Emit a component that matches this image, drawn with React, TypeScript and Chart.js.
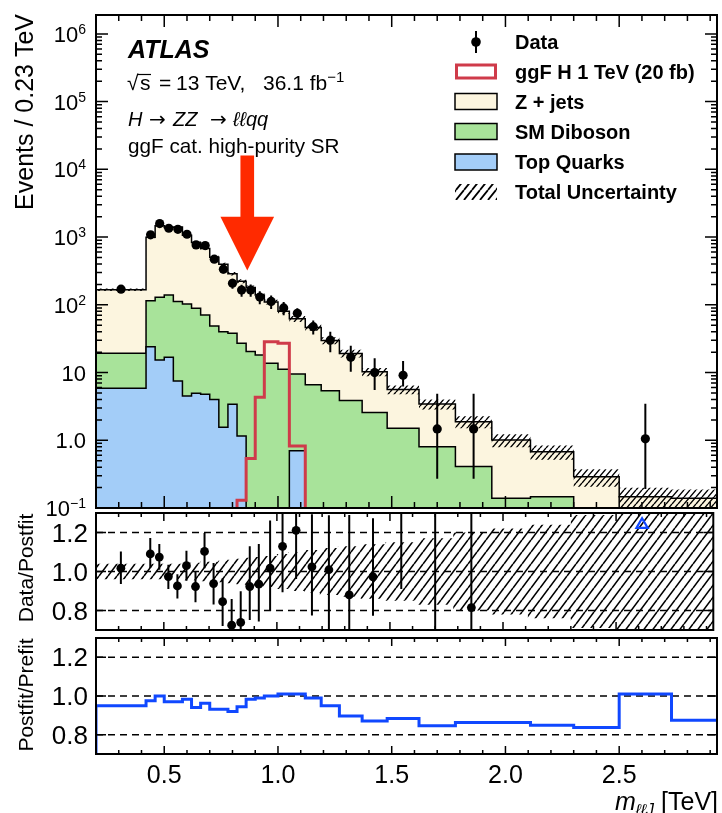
import React, { useEffect, useRef } from "react";
import { Chart, registerables } from "chart.js";

Chart.register(...registerables);

// ---------------- data ----------------
const BIN_EDGES = [0.2, 0.42, 0.46, 0.5, 0.54, 0.58, 0.62, 0.66, 0.7, 0.74, 0.78, 0.82, 0.86, 0.9, 0.94, 1.0, 1.05, 1.12, 1.19, 1.27, 1.37, 1.48, 1.62, 1.78, 1.94, 2.11, 2.3, 2.5, 2.73, 2.93];

const DATA_EVENTS = [170, 1080, 1580, 1350, 1300, 1100, 767, 750, 472, 336, 208, 165, 165, 130, 112, 90, 75, 47.5, 30, 16.8, 10, 9.1, 1.47, 1.47, null, null, null, 1.05, null];
const DATA_ERR_UP = [14, 80, 95, 80, 80, 80, 55, 65, 50, 45, 35, 33, 34, 28, 25, 20, 14, 11, 10, 8, 6.3, 5.7, 3.4, 3.4, null, null, null, 2.4, null];
const DATA_ERR_DOWN = [14, 80, 95, 80, 80, 80, 55, 65, 50, 45, 35, 33, 34, 28, 25, 20, 12, 11, 10, 6.5, 4.5, 2.9, 1.2, 1.2, null, null, null, 0.86, null];

const Z_JETS = [148, 875, 1341, 1246, 1293, 965, 742, 609, 454, 356, 249, 196, 159, 121, 96, 69, 52.5, 39.8, 24.3, 15.3, 7.7, 4.1, 2.63, 1.47, 0.87, 0.53, 0.24, 0.117, 0.119];
const SM_DIBOSON = [13.4, 91, 114, 123, 104, 98.5, 84, 66.2, 44.7, 38.4, 34.6, 25.8, 20.4, 18.2, 13.7, 11.2, 8.8, 6.6, 5.4, 3.85, 2.56, 1.5, 0.8, 0.41, 0.139, 0.147, 0.05, 0.03, 0.02];
const TOP_QUARKS = [5.86, 24, 15.3, 16.8, 7.5, 4.5, 4.95, 4.8, 4.0, 1.56, 3.4, 1.16, 0, 0, 0, 0, 0.7, 0, 0, 0, 0, 0, 0, 0, 0, 0, 0, 0, 0];
const SIGNAL_GGF_1TEV = [0, 0, 0, 0, 0, 0, 0, 0, 0, 0, 0, 0.13, 0.54, 4.3, 28.6, 27, 0.82, 0, 0, 0, 0, 0, 0, 0, 0, 0, 0, 0, 0];
const REL_UNCERTAINTY = [0.04, 0.04, 0.04, 0.04, 0.04, 0.045, 0.045, 0.05, 0.05, 0.055, 0.06, 0.065, 0.07, 0.075, 0.08, 0.09, 0.1, 0.11, 0.12, 0.13, 0.14, 0.15, 0.17, 0.2, 0.22, 0.24, 0.29, 0.35, 0.35];

const RATIO = [1.017, 1.09, 1.074, 0.974, 0.926, 1.03, 0.923, 1.103, 0.938, 0.845, 0.725, 0.739, 0.923, 0.935, 1.017, 1.129, 1.211, 1.024, 1.009, 0.88, 0.973, 1.63, 0.43, 0.815, null, null, null, null, null];
const RATIO_ERR_UP = [0.086, 0.082, 0.067, 0.06, 0.06, 0.077, 0.077, 0.095, 0.105, 0.12, 0.134, 0.16, 0.206, 0.206, 0.244, 0.26, 0.25, 0.27, 0.28, 0.41, 0.3, 0.6, 0.95, 0.9, null, null, null, null, null];
const RATIO_ERR_DOWN = [0.081, 0.072, 0.065, 0.064, 0.064, 0.077, 0.081, 0.086, 0.107, 0.124, 0.14, 0.16, 0.172, 0.192, 0.22, 0.235, 0.25, 0.25, 0.31, 0.3, 0.2, 0.72, 0.43, 0.65, null, null, null, null, null];
const OFFSCALE_BINS = [27];
const OFFSCALE_MARK_Y = 1.24;

const POSTFIT_PREFIT = [0.95, 0.976, 1.0, 0.97, 0.97, 0.983, 0.94, 0.962, 0.931, 0.931, 0.92, 0.945, 0.983, 0.99, 1.0, 1.01, 1.01, 0.99, 0.95, 0.897, 0.871, 0.883, 0.846, 0.863, 0.863, 0.849, 0.837, 1.01, 0.875];

const X_TICK_VALUES = [0.5, 1.0, 1.5, 2.0, 2.5];
const X_TICK_LABELS = ["0.5", "1.0", "1.5", "2.0", "2.5"];
const Y_TOP_TICK_VALUES = [1e6, 1e5, 1e4, 1e3, 1e2, 10, 1, 0.1];
const Y_TOP_TICK_BASES = ["10", "10", "10", "10", "10", "10", "1.0", "10"];
const Y_TOP_TICK_EXPS = ["6", "5", "4", "3", "2", "", "", "\u22121"];
const RATIO_TICK_VALUES = [1.2, 1.0, 0.8];
const RATIO_TICK_LABELS = ["1.2", "1.0", "0.8"];
const LEGEND_LABELS = ["Data", "ggF H 1 TeV (20 fb)", "Z + jets", "SM Diboson", "Top Quarks", "Total Uncertainty"];

const ARROW_X = 0.865;
const ARROW_TIP = 320;
const ARROW_HEAD_BASE = 2000;
const ARROW_TAIL = 16000;
const ARROW_HEAD_HALF = 0.118;
const ARROW_SHAFT_HALF = 0.03;

// ---------------- layout / style ----------------
const W = 722;
const H = 813;
const X_MIN = 0.2;
const X_MAX = 2.93;
const FONT = '"Liberation Sans", Arial, Helvetica, sans-serif';
const C_ZJETS = "#fcf5df";
const C_DIBOSON = "#a8e39a";
const C_TOP = "#a3cdf8";
const C_SIGNAL = "#cf3b4a";
const C_ARROW = "#ff2a00";
const C_BLUE = "#1048ff";

const BIN_CENTERS = BIN_EDGES.slice(0, -1).map((e, i) => (e + BIN_EDGES[i + 1]) / 2);

function stepPoints(vals: number[], floor: number) {
  const pts: { x: number; y: number }[] = [];
  vals.forEach((v, i) => {
    const y = v > floor ? v : floor;
    pts.push({ x: BIN_EDGES[i], y }, { x: BIN_EDGES[i + 1], y });
  });
  return pts;
}

function makeHatch(ctx: CanvasRenderingContext2D, w: number, h: number, lw: number) {
  const c = document.createElement("canvas");
  c.width = w;
  c.height = h;
  const g = c.getContext("2d")!;
  g.strokeStyle = "#000";
  g.lineWidth = lw;
  g.beginPath();
  for (const k of [-1, 0, 1]) {
    g.moveTo(k * w, h);
    g.lineTo(k * w + w, 0);
  }
  g.stroke();
  return ctx.createPattern(c, "repeat")!;
}

type Part = { t: string; font: string; dy?: number; x?: number };
function drawParts(ctx: CanvasRenderingContext2D, x: number, y: number, parts: Part[], align: "left" | "right" | "center" = "left") {
  let w = 0;
  for (const p of parts) {
    ctx.font = p.font;
    w += ctx.measureText(p.t).width;
  }
  let cx = align === "left" ? x : align === "right" ? x - w : x - w / 2;
  ctx.textAlign = "left";
  ctx.textBaseline = "alphabetic";
  for (const p of parts) {
    ctx.font = p.font;
    if (p.x !== undefined) cx = p.x;
    ctx.fillText(p.t, cx, y + (p.dy || 0));
    cx += ctx.measureText(p.t).width;
  }
}

function drawFrameAndXTicks(chart: any, major: number, minor: number, withLabels: boolean) {
  const ctx: CanvasRenderingContext2D = chart.ctx;
  const a = chart.chartArea;
  const xs = chart.scales.x;
  ctx.save();
  ctx.strokeStyle = "#000";
  ctx.lineWidth = 1.5;
  ctx.beginPath();
  for (let k = 3; k <= 29; k++) {
    const v = k / 10;
    if (v >= X_MAX) break;
    const px = xs.getPixelForValue(v);
    const len = k % 5 === 0 ? major : minor;
    ctx.moveTo(px, a.bottom);
    ctx.lineTo(px, a.bottom - len);
    ctx.moveTo(px, a.top);
    ctx.lineTo(px, a.top + len);
  }
  ctx.stroke();
  ctx.lineWidth = 2;
  ctx.strokeRect(a.left, a.top, a.right - a.left, a.bottom - a.top);
  if (withLabels) {
    ctx.fillStyle = "#000";
    X_TICK_VALUES.forEach((v, i) => {
      drawParts(ctx, xs.getPixelForValue(v), a.bottom + 29, [{ t: X_TICK_LABELS[i], font: `25px ${FONT}` }], "center");
    });
  }
  ctx.restore();
}

function drawRatioYAxis(chart: any, title: string, titleY: number) {
  const ctx: CanvasRenderingContext2D = chart.ctx;
  const a = chart.chartArea;
  const ys = chart.scales.y;
  ctx.save();
  ctx.strokeStyle = "#000";
  ctx.lineWidth = 1.5;
  ctx.beginPath();
  RATIO_TICK_VALUES.forEach((v) => {
    const py = ys.getPixelForValue(v);
    ctx.moveTo(a.left, py);
    ctx.lineTo(a.left + 10, py);
    ctx.moveTo(a.right, py);
    ctx.lineTo(a.right - 10, py);
  });
  ctx.stroke();
  ctx.fillStyle = "#000";
  RATIO_TICK_VALUES.forEach((v, i) => {
    drawParts(ctx, a.left - 8, ys.getPixelForValue(v) + 9, [{ t: RATIO_TICK_LABELS[i], font: `26px ${FONT}` }], "right");
  });
  ctx.translate(33, titleY);
  ctx.rotate(-Math.PI / 2);
  ctx.font = `21px ${FONT}`;
  ctx.textAlign = "center";
  ctx.fillText(title, 0, 0);
  ctx.restore();
}

function drawDashes(chart: any) {
  const ctx: CanvasRenderingContext2D = chart.ctx;
  const a = chart.chartArea;
  const ys = chart.scales.y;
  ctx.save();
  ctx.strokeStyle = "#000";
  ctx.lineWidth = 1.5;
  ctx.setLineDash([7, 5]);
  ctx.beginPath();
  RATIO_TICK_VALUES.forEach((v) => {
    const py = ys.getPixelForValue(v);
    ctx.moveTo(a.left, py);
    ctx.lineTo(a.right, py);
  });
  ctx.stroke();
  ctx.restore();
}

function baseOptions(pad: any, yScale: any) {
  return {
    responsive: false,
    maintainAspectRatio: false,
    animation: false,
    devicePixelRatio: 1,
    events: [],
    layout: { padding: pad },
    plugins: { legend: { display: false }, tooltip: { enabled: false } },
    scales: {
      x: { type: "linear", min: X_MIN, max: X_MAX, display: false, bounds: "data" },
      y: yScale,
    },
    elements: { line: { tension: 0, borderJoinStyle: "miter" }, point: { radius: 0 } },
  } as any;
}

function buildTop(canvas: HTMLCanvasElement) {
  const ctx = canvas.getContext("2d")!;
  const hatch = makeHatch(ctx, 6, 7, 1.4);
  const legendHatch = makeHatch(ctx, 8, 10, 1.8);
  const cumTop = TOP_QUARKS.slice();
  const cumDib = TOP_QUARKS.map((v, i) => v + SM_DIBOSON[i]);
  const cumAll = cumDib.map((v, i) => v + Z_JETS[i]);
  const floor = 1e-4;

  const plugin = {
    id: "topPanel",
    afterDatasetsDraw(chart: any) {
      const c: CanvasRenderingContext2D = chart.ctx;
      const a = chart.chartArea;
      const xs = chart.scales.x;
      const ys = chart.scales.y;
      c.save();
      c.beginPath();
      c.rect(a.left, a.top, a.right - a.left, a.bottom - a.top);
      c.clip();
      c.strokeStyle = "#000";
      c.lineWidth = 2;
      c.beginPath();
      BIN_CENTERS.forEach((bc, i) => {
        const v = DATA_EVENTS[i];
        if (v == null) return;
        const px = xs.getPixelForValue(bc);
        c.moveTo(px, ys.getPixelForValue(v + (DATA_ERR_UP[i] as number)));
        c.lineTo(px, ys.getPixelForValue(Math.max(v - (DATA_ERR_DOWN[i] as number), floor)));
      });
      c.stroke();
      // arrow
      const ax = xs.getPixelForValue(ARROW_X);
      const sh = xs.getPixelForValue(ARROW_X + ARROW_SHAFT_HALF) - ax;
      const hh = xs.getPixelForValue(ARROW_X + ARROW_HEAD_HALF) - ax;
      const yTail = ys.getPixelForValue(ARROW_TAIL);
      const yBase = ys.getPixelForValue(ARROW_HEAD_BASE);
      const yTip = ys.getPixelForValue(ARROW_TIP);
      c.fillStyle = C_ARROW;
      c.beginPath();
      c.moveTo(ax - sh, yTail);
      c.lineTo(ax + sh, yTail);
      c.lineTo(ax + sh, yBase);
      c.lineTo(ax + hh, yBase);
      c.lineTo(ax, yTip);
      c.lineTo(ax - hh, yBase);
      c.lineTo(ax - sh, yBase);
      c.closePath();
      c.fill();
      c.restore();
    },
    afterDraw(chart: any) {
      const c: CanvasRenderingContext2D = chart.ctx;
      const a = chart.chartArea;
      const ys = chart.scales.y;
      drawFrameAndXTicks(chart, 12, 6, false);
      c.save();
      c.strokeStyle = "#000";
      c.lineWidth = 1.5;
      c.beginPath();
      for (let d = -1; d <= 6; d++) {
        for (let m = 1; m <= 9; m++) {
          const v = m * Math.pow(10, d);
          if (v < ys.min || v > ys.max) continue;
          const py = ys.getPixelForValue(v);
          const len = m === 1 ? 12 : 6;
          c.moveTo(a.left, py);
          c.lineTo(a.left + len, py);
          c.moveTo(a.right, py);
          c.lineTo(a.right - len, py);
        }
      }
      c.stroke();
      c.fillStyle = "#000";
      Y_TOP_TICK_VALUES.forEach((v, i) => {
        const py = ys.getPixelForValue(v);
        const parts: Part[] = [{ t: Y_TOP_TICK_BASES[i], font: `22px ${FONT}` }];
        if (Y_TOP_TICK_EXPS[i]) parts.push({ t: Y_TOP_TICK_EXPS[i], font: `14px ${FONT}`, dy: -8 });
        drawParts(c, a.left - 10, py + 8, parts, "right");
      });
      // y title
      c.save();
      c.translate(33, a.top - 1);
      c.rotate(-Math.PI / 2);
      c.font = `25px ${FONT}`;
      c.textAlign = "right";
      c.fillText("Events / 0.23 TeV", 0, 0);
      c.restore();

      // labels top-left
      c.fillStyle = "#000";
      drawParts(c, 128, 58, [{ t: "ATLAS", font: `italic bold 25px ${FONT}` }]);
      const f21 = `21px ${FONT}`;
      c.font = f21;
      c.textAlign = "left";
      c.fillText("\u221A", 127, 90);
      c.fillText("s", 140, 90);
      c.lineWidth = 1.2;
      c.beginPath();
      c.moveTo(137, 74.5);
      c.lineTo(151, 74.5);
      c.stroke();
      drawParts(c, 159, 90, [
        { t: "=", font: f21, x: 159 },
        { t: "13 TeV,", font: f21, x: 176 },
        { t: "36.1 fb", font: f21, x: 263 },
        { t: "\u22121", font: `15px ${FONT}`, dy: -8 },
      ]);
      const arrowFont = `20px "DejaVu Sans", ${FONT}`;
      drawParts(c, 128, 126, [
        { t: "H", font: `italic 20px ${FONT}`, x: 128 },
        { t: "\u2192", font: arrowFont, x: 149 },
        { t: "ZZ", font: `italic 20px ${FONT}`, x: 173 },
        { t: "\u2192", font: arrowFont, x: 210 },
        { t: "\u2113\u2113qq", font: `italic 20px ${FONT}`, x: 233 },
      ]);
      drawParts(c, 128, 153, [{ t: "ggF cat. high-purity SR", font: `20.7px ${FONT}` }]);

      // legend
      const x0 = 455;
      const bw = 42;
      const tx = 515;
      const rows = [42, 71.5, 101.5, 131.5, 162, 192];
      c.lineWidth = 2;
      c.beginPath();
      c.moveTo(x0 + bw / 2, rows[0] - 11);
      c.lineTo(x0 + bw / 2, rows[0] + 11);
      c.stroke();
      c.beginPath();
      c.arc(x0 + bw / 2, rows[0], 4.8, 0, Math.PI * 2);
      c.fill();
      c.fillStyle = "#fff";
      c.fillRect(x0, rows[1] - 8, bw, 16);
      c.strokeStyle = C_SIGNAL;
      c.lineWidth = 3;
      c.strokeRect(x0 + 1.5, rows[1] - 6.5, bw - 3, 13);
      const fills = [C_ZJETS, C_DIBOSON, C_TOP];
      c.strokeStyle = "#000";
      c.lineWidth = 1.5;
      fills.forEach((f, k) => {
        const y = rows[2 + k];
        c.fillStyle = f;
        c.fillRect(x0, y - 8, bw, 16);
        c.strokeRect(x0, y - 8, bw, 16);
      });
      c.fillStyle = legendHatch;
      c.fillRect(x0, rows[5] - 8, bw, 16);
      c.fillStyle = "#000";
      LEGEND_LABELS.forEach((t, k) => {
        drawParts(c, tx, rows[k] + 7, [{ t, font: `bold 20px ${FONT}` }]);
      });
      c.restore();
    },
  };

  return new Chart(canvas, {
    type: "line",
    data: {
      datasets: [
        {
          label: "Data",
          data: BIN_CENTERS.map((x, i) => ({ x, y: DATA_EVENTS[i] })),
          showLine: false,
          pointRadius: 4.6,
          pointBackgroundColor: "#000",
          pointBorderColor: "#000",
          pointBorderWidth: 0,
          clip: 0,
        },
        {
          label: "ggF H 1 TeV (20 fb)",
          data: stepPoints(SIGNAL_GGF_1TEV, floor),
          borderColor: C_SIGNAL,
          borderWidth: 3,
          fill: false,
          pointRadius: 0,
          clip: 0,
        },
        {
          label: "unc-up",
          data: stepPoints(cumAll.map((v, i) => v * (1 + REL_UNCERTAINTY[i])), floor),
          borderColor: "transparent",
          borderWidth: 0,
          fill: false,
          pointRadius: 0,
          clip: 0,
        },
        {
          label: "Total Uncertainty",
          data: stepPoints(cumAll.map((v, i) => v * (1 - REL_UNCERTAINTY[i])), floor),
          borderColor: "transparent",
          borderWidth: 0,
          backgroundColor: hatch,
          fill: 2,
          pointRadius: 0,
          clip: 0,
        },
        {
          label: "Top Quarks",
          data: stepPoints(cumTop, floor),
          borderColor: "#000",
          borderWidth: 1.5,
          backgroundColor: C_TOP,
          fill: "start",
          pointRadius: 0,
          clip: 0,
        },
        {
          label: "SM Diboson",
          data: stepPoints(cumDib, floor),
          borderColor: "#000",
          borderWidth: 1.5,
          backgroundColor: C_DIBOSON,
          fill: "start",
          pointRadius: 0,
          clip: 0,
        },
        {
          label: "Z + jets",
          data: stepPoints(cumAll, floor),
          borderColor: "#000",
          borderWidth: 1.5,
          backgroundColor: C_ZJETS,
          fill: "start",
          pointRadius: 0,
          clip: 0,
        },
      ],
    },
    options: baseOptions(
      { left: 96, right: 5, top: 15, bottom: H - 508 },
      { type: "logarithmic", min: 0.1, max: 1.9e6, display: false, bounds: "data" }
    ),
    plugins: [plugin],
  } as any);
}

function buildMid(canvas: HTMLCanvasElement) {
  const ctx = canvas.getContext("2d")!;
  const hatch = makeHatch(ctx, 9, 12, 1.6);
  const plugin = {
    id: "midPanel",
    beforeDatasetsDraw(chart: any) {
      drawDashes(chart);
    },
    afterDatasetsDraw(chart: any) {
      const c: CanvasRenderingContext2D = chart.ctx;
      const a = chart.chartArea;
      const xs = chart.scales.x;
      const ys = chart.scales.y;
      c.save();
      c.beginPath();
      c.rect(a.left, a.top, a.right - a.left, a.bottom - a.top);
      c.clip();
      c.strokeStyle = "#000";
      c.lineWidth = 2;
      c.beginPath();
      BIN_CENTERS.forEach((bc, i) => {
        const v = RATIO[i];
        if (v == null) return;
        const px = xs.getPixelForValue(bc);
        c.moveTo(px, ys.getPixelForValue(v + (RATIO_ERR_UP[i] as number)));
        c.lineTo(px, ys.getPixelForValue(v - (RATIO_ERR_DOWN[i] as number)));
      });
      c.stroke();
      c.restore();
    },
    afterDraw(chart: any) {
      drawFrameAndXTicks(chart, 8, 4, false);
      drawRatioYAxis(chart, "Data/Postfit", 568);
    },
  };
  return new Chart(canvas, {
    type: "line",
    data: {
      datasets: [
        {
          label: "Data/Postfit",
          data: BIN_CENTERS.map((x, i) => ({ x, y: RATIO[i] })),
          showLine: false,
          pointRadius: 4.4,
          pointBackgroundColor: "#000",
          pointBorderColor: "#000",
          pointBorderWidth: 0,
          clip: 0,
        },
        {
          label: "off-scale",
          data: OFFSCALE_BINS.map((b) => ({ x: BIN_CENTERS[b], y: OFFSCALE_MARK_Y })),
          showLine: false,
          pointStyle: "triangle",
          pointRadius: 6.5,
          pointBackgroundColor: "rgba(0,0,0,0)",
          pointBorderColor: C_BLUE,
          pointBorderWidth: 2.2,
          clip: 0,
        },
        {
          label: "unc-up",
          data: stepPoints(REL_UNCERTAINTY.map((u) => 1 + u), -10),
          borderColor: "transparent",
          borderWidth: 0,
          fill: false,
          pointRadius: 0,
          clip: 0,
        },
        {
          label: "unc-down",
          data: stepPoints(REL_UNCERTAINTY.map((u) => 1 - u), -10),
          borderColor: "transparent",
          borderWidth: 0,
          backgroundColor: hatch,
          fill: 2,
          pointRadius: 0,
          clip: 0,
        },
      ],
    },
    options: baseOptions(
      { left: 96, right: 5, top: 513, bottom: H - 630 },
      { type: "linear", min: 0.7, max: 1.3, display: false, bounds: "data" }
    ),
    plugins: [plugin],
  } as any);
}

function buildBot(canvas: HTMLCanvasElement) {
  const plugin = {
    id: "botPanel",
    beforeDatasetsDraw(chart: any) {
      drawDashes(chart);
    },
    afterDraw(chart: any) {
      const c: CanvasRenderingContext2D = chart.ctx;
      const a = chart.chartArea;
      drawFrameAndXTicks(chart, 8, 4, true);
      drawRatioYAxis(chart, "Postfit/Prefit", 695);
      c.save();
      c.fillStyle = "#000";
      drawParts(
        c,
        a.right + 1,
        810,
        [
          { t: "m", font: `italic 25px ${FONT}` },
          { t: "\u2113\u2113J", font: `italic 16px ${FONT}`, dy: 5 },
          { t: " [TeV]", font: `25px ${FONT}` },
        ],
        "right"
      );
      c.restore();
    },
  };
  return new Chart(canvas, {
    type: "line",
    data: {
      datasets: [
        {
          label: "Postfit/Prefit",
          data: [{ x: BIN_EDGES[0], y: 0 }, ...stepPoints(POSTFIT_PREFIT, -10)],
          borderColor: C_BLUE,
          borderWidth: 3,
          fill: false,
          pointRadius: 0,
          clip: 0,
        },
      ],
    },
    options: baseOptions(
      { left: 96, right: 5, top: 638, bottom: H - 754 },
      { type: "linear", min: 0.7, max: 1.3, display: false, bounds: "data" }
    ),
    plugins: [plugin],
  } as any);
}

export default function App() {
  const topRef = useRef<HTMLCanvasElement>(null);
  const midRef = useRef<HTMLCanvasElement>(null);
  const botRef = useRef<HTMLCanvasElement>(null);
  useEffect(() => {
    const charts = [buildTop(topRef.current!), buildMid(midRef.current!), buildBot(botRef.current!)];
    return () => charts.forEach((ch) => ch.destroy());
  }, []);
  const cs: React.CSSProperties = { position: "absolute", left: 0, top: 0, width: W, height: H };
  return (
    <div style={{ position: "absolute", left: 0, top: 0, width: W, height: H, background: "#fff", overflow: "hidden" }}>
      <canvas ref={topRef} width={W} height={H} style={cs} />
      <canvas ref={midRef} width={W} height={H} style={cs} />
      <canvas ref={botRef} width={W} height={H} style={cs} />
    </div>
  );
}
